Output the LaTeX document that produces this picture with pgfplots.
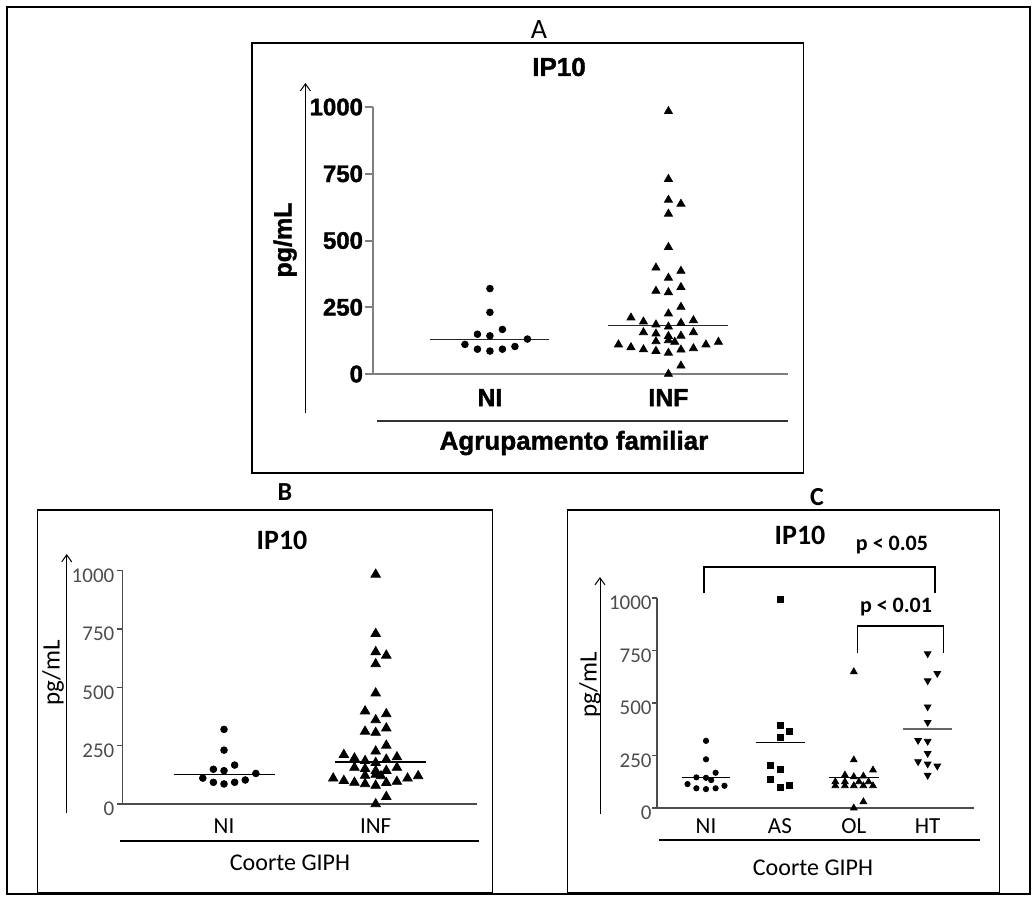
\documentclass[border=0pt]{standalone}
\usepackage{fontspec}
\setmainfont{Carlito}
\newfontfamily\arialfont{Liberation Sans}[BoldFeatures={FakeBold=1.5}]
\usepackage{pgfplots}
\pgfplotsset{compat=1.18}
\usetikzlibrary{arrows.meta}
\definecolor{axgray}{HTML}{7F7F7F}
\definecolor{lblgray}{HTML}{4D4D4D}
\newcommand{\fsz}[1]{\fontsize{#1}{#1}\selectfont}

% ---------- data ----------
% Panel A / B: non-infected (NI) and infected (INF), x = category + jitter
\pgfplotstableread{
x y
1.00 320
1.00 231
1.07 167
0.93 149
1.00 143
1.21 131
0.86 111
0.93 93
1.00 86
1.07 93
1.14 103
}\dataNI
\pgfplotstableread{
x y
2.00 984
2.00 730
2.00 652
2.07 637
2.00 600
2.00 475
1.93 398
2.07 386
2.00 360
1.93 311
2.00 306
2.07 325
2.07 251
2.00 226
1.79 211
1.86 196
1.93 185
2.00 177
2.07 191
2.14 201
1.86 156
1.93 151
2.00 142
2.07 143
2.14 156
1.93 122
2.00 126
2.035 120
1.72 110
1.79 100
1.86 92
1.93 86
2.00 79
2.07 91
2.14 96
2.21 110
2.28 120
2.07 31
2.00 0
}\dataINF
% Panel C
\pgfplotstableread{
x y
1.00 320
1.00 232
1.13 168
0.87 146
1.00 144
1.07 133
0.75 114
0.87 94
1.00 90
1.13 94
1.25 106
}\dataCNI
\pgfplotstableread{
x y
2.00 994
2.00 395
2.135 363
2.00 335
1.865 205
2.00 186
1.865 137
2.00 99
2.135 110
}\dataCAS
\pgfplotstableread{
x y
3.00 649
3.00 229
3.26 181
2.88 157
3.00 149
3.13 152
2.75 125
2.88 125
3.07 125
3.20 125
2.75 106
2.88 106
3.00 106
3.13 106
3.26 106
3.13 30
3.00 0
}\dataCOL
\pgfplotstableread{
x y
4.00 735
4.13 641
4.00 606
4.00 482
4.00 408
3.87 322
4.00 318
4.00 260
3.87 221
4.00 210
4.13 200
4.00 156
}\dataCHT

\begin{document}
\begin{tikzpicture}
\begin{scope}[x=0.5pt,y=-0.5pt]
\path[use as bounding box] (0,0) rectangle (1036,896);
\draw[line width=0.7pt] (7,7) rectangle (1030,894);
% ---- panel A frame and texts
\draw[line width=0.7pt] (252,43) rectangle (803.5,473);
\node[font=\fsz{14}] at (539,30) {A};
\node[font=\arialfont\bfseries\fsz{13}] at (559,67) {IP10};
\node[font=\arialfont\bfseries\fsz{12.5}, rotate=90] at (285,240) {pg/mL};
\draw[line width=0.5pt, -{Straight Barb[length=3.5pt,width=5pt]}] (305.4,413) -- (305.4,83);
\draw[line width=0.8pt, black!80] (377,421) -- (787.5,421);
\node[font=\arialfont\bfseries\fsz{13}] at (574,443) {Agrupamento familiar};
% ---- panel B frame and texts
\draw[line width=0.7pt] (37.3,510) rectangle (492.7,893);
\node[font=\bfseries\fsz{13}] at (285,492) {B};
\node[font=\bfseries\fsz{14}] at (282,540) {IP10};
\node[font=\fsz{12.5}, rotate=90] at (53,673) {pg/mL};
\draw[line width=0.5pt, -{Straight Barb[length=3.5pt,width=5pt]}] (66.7,813) -- (66.7,554);
\draw[line width=0.6pt] (120,841) -- (478.7,841);
\node[font=\fsz{12}] at (290,863) {Coorte GIPH};
% ---- panel C frame and texts
\draw[line width=0.7pt] (567.3,510) rectangle (999.3,893);
\node[font=\bfseries\fsz{13}] at (817,497) {C};
\node[font=\bfseries\fsz{14}] at (800,535) {IP10};
\node[font=\bfseries\fsz{11}] at (892,545) {p < 0.05};
\node[font=\bfseries\fsz{11}] at (896,607) {p < 0.01};
\node[font=\fsz{12.5}, rotate=90] at (590,685) {pg/mL};
\draw[line width=0.5pt, -{Straight Barb[length=3.5pt,width=5pt]}] (600,814) -- (600,577);
\draw[line width=0.6pt] (659,840) -- (980,840);
\node[font=\fsz{12}] at (813,868) {Coorte GIPH};
\draw[line width=0.6pt] (704,593) -- (704,567) -- (935,567) -- (935,593);
\draw[line width=0.6pt] (857.7,653) -- (857.7,626) -- (943.3,626) -- (943.3,653);
\end{scope}

% ================= Panel A axis =================
\begin{axis}[at={(186.5pt,-187pt)}, anchor=south west, scale only axis,
  width=207.25pt, height=133.5pt,
  xmin=0.345, xmax=2.667, ymin=0, ymax=1000, clip=false,
  axis x line*=bottom, axis y line*=left,
  axis line style={-, draw=axgray, line width=1pt},
  ytick={0,250,500,750,1000}, yticklabels={0,250,500,750,1000},
  tick align=outside, major tick length=3.8pt,
  y tick style={draw=axgray, line width=1pt},
  xtick={1,2}, xticklabels={NI,INF}, x tick style={draw=none},
  yticklabel style={font=\arialfont\bfseries\fsz{12}, anchor=east, inner sep=1pt},
  xticklabel style={font=\arialfont\bfseries\fsz{12.4}, anchor=center, yshift=-8pt},
]
\addplot[only marks, mark=*, mark size=1.67pt, mark options={fill=black, draw=black}] table[x=x,y=y] {\dataNI};
\addplot[only marks, mark=triangle*, mark size=2.3pt, mark options={fill=black, draw=black}] table[x=x,y=y] {\dataINF};
\addplot[black!85, line width=0.6pt, mark=none] coordinates {(0.667,130) (1.333,130)};
\addplot[black!85, line width=0.6pt, mark=none] coordinates {(1.663,182) (2.335,182)};
\end{axis}

% ================= Panel B axis =================
\begin{axis}[at={(61.35pt,-402pt)}, anchor=south west, scale only axis,
  width=177.3pt, height=116.65pt,
  xmin=0.332, xmax=2.67, ymin=0, ymax=1000, clip=false,
  axis x line*=bottom, axis y line*=left,
  axis line style={-, draw=black!70, line width=0.7pt},
  ytick={0,250,500,750,1000}, yticklabels={0,250,500,750,1000},
  tick align=outside, major tick length=3pt,
  y tick style={draw=black!70, line width=0.6pt},
  xtick={1,2}, xticklabels={NI,INF}, x tick style={draw=none},
  yticklabel style={font=\fsz{10.5}, text=lblgray, anchor=east, inner sep=1pt, yshift=-2.5pt},
  xticklabel style={font=\fsz{11.5}, anchor=center, yshift=-8pt},
]
\addplot[only marks, mark=*, mark size=1.67pt, mark options={fill=black, draw=black}] table[x=x,y=y] {\dataNI};
\addplot[only marks, mark=triangle*, mark size=2.7pt, mark options={fill=black, draw=black}] table[x=x,y=y] {\dataINF};
\addplot[black, line width=0.6pt, mark=none] coordinates {(0.667,128) (1.333,128)};
\addplot[black, line width=0.6pt, mark=none] coordinates {(1.73,180) (2.33,180)};
\end{axis}

% ================= Panel C axis =================
\begin{axis}[at={(328.5pt,-404pt)}, anchor=south west, scale only axis,
  width=158.5pt, height=105pt,
  xmin=0.337, xmax=4.627, ymin=0, ymax=1000, clip=false,
  axis x line*=bottom, axis y line*=left,
  axis line style={-, draw=black!70, line width=0.7pt},
  ytick={0,250,500,750,1000}, yticklabels={0,250,500,750,1000},
  tick align=outside, major tick length=2.5pt,
  y tick style={draw=black!70, line width=0.6pt},
  xtick={1,2,3,4}, xticklabels={NI,AS,OL,HT}, x tick style={draw=none},
  yticklabel style={font=\fsz{10.5}, text=lblgray, anchor=east, inner sep=0pt, yshift=-2.5pt},
  xticklabel style={font=\fsz{11.5}, anchor=center, yshift=-6.5pt},
]
\addplot[only marks, mark=*, mark size=1.33pt, mark options={fill=black, draw=black}] table[x=x,y=y] {\dataCNI};
\addplot[only marks, mark=square*, mark size=1.5pt, mark options={fill=black, draw=black}] table[x=x,y=y] {\dataCAS};
\addplot[only marks, mark=triangle*, mark size=1.9pt, mark options={fill=black, draw=black}] table[x=x,y=y] {\dataCOL};
\addplot[only marks, mark=triangle*, mark size=1.9pt, mark options={fill=black, draw=black, rotate=180}] table[x=x,y=y] {\dataCHT};
\addplot[black, line width=0.6pt, mark=none] coordinates {(0.67,145) (1.33,145)};
\addplot[black, line width=0.6pt, mark=none] coordinates {(1.67,311) (2.34,311)};
\addplot[black, line width=0.6pt, mark=none] coordinates {(2.67,146) (3.34,146)};
\addplot[black!60, line width=0.8pt, mark=none] coordinates {(3.67,375) (4.33,375)};
\end{axis}
\end{tikzpicture}
\end{document}
